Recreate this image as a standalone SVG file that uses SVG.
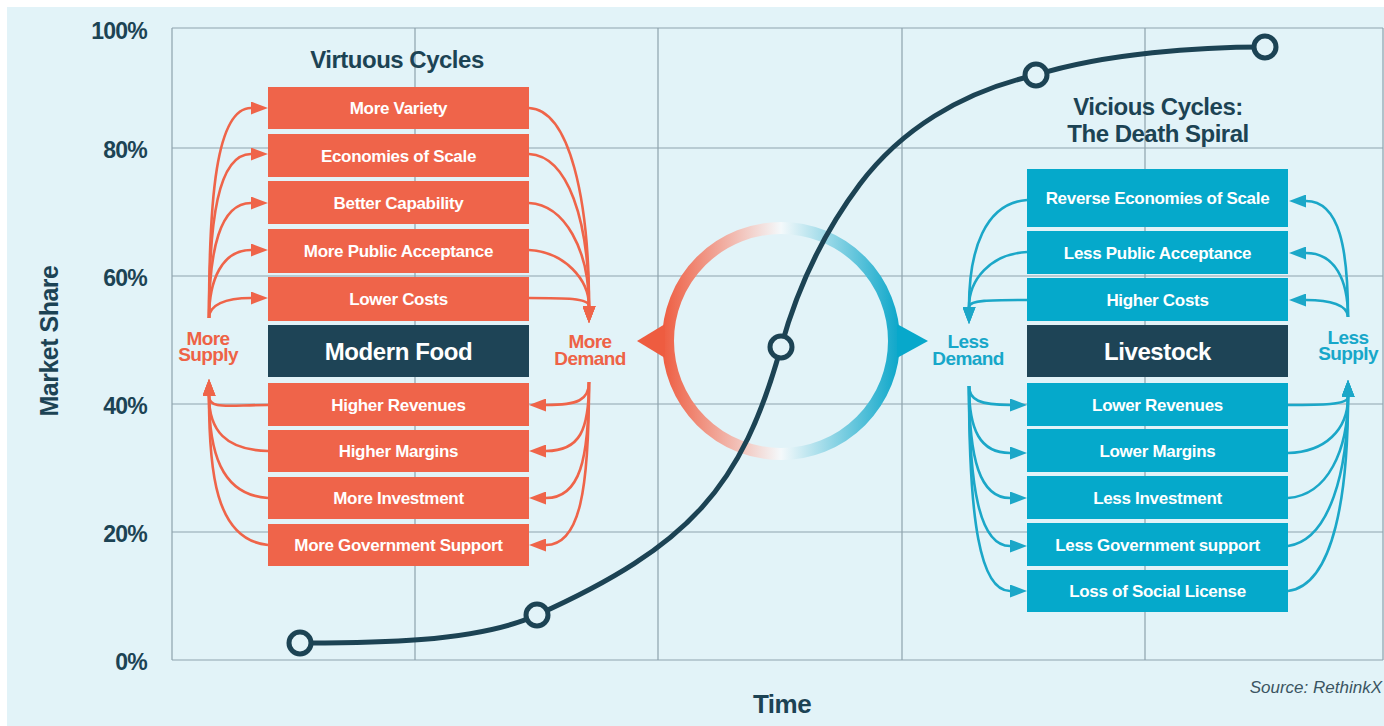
<svg xmlns="http://www.w3.org/2000/svg" width="1384" height="726" viewBox="0 0 1384 726">
<defs>
<style>
.grid{stroke:#8ea3ad;stroke-width:1.2;fill:none}
.ob{fill:#ef644a}
.bb{fill:#05a9cb}
.db{fill:#1e4456}
.bt{font-family:"Liberation Sans",Arial,sans-serif;font-weight:bold;font-size:17px;fill:#ffffff;text-anchor:middle;letter-spacing:-0.3px}
.big{font-size:24px;letter-spacing:-0.4px}
.title{font-family:"Liberation Sans",Arial,sans-serif;font-weight:bold;font-size:24px;fill:#1c4354;text-anchor:middle;letter-spacing:-0.5px}
.axis{font-family:"Liberation Sans",Arial,sans-serif;font-weight:bold;font-size:23px;fill:#1c4354;text-anchor:end;letter-spacing:-0.8px}
.lab{font-family:"Liberation Sans",Arial,sans-serif;font-weight:bold;font-size:19px;text-anchor:middle;letter-spacing:-0.6px}
.ol{fill:#ee6246}
.bl{fill:#17a7c9}
.oc{fill:none;stroke:#ef6449;stroke-width:2.6}
.bc{fill:none;stroke:#1ba7c8;stroke-width:2.6}
.oc path{marker-end:url(#ao)}
.bc path{marker-end:url(#ab)}
.pt{fill:#e2f3f8;stroke:#1c4354;stroke-width:5}
</style>
<marker id="ao" markerUnits="userSpaceOnUse" markerWidth="17" markerHeight="13" viewBox="0 0 17 13" refX="0" refY="6.5" orient="auto"><path d="M0,0 L17,6.5 L0,13 z" fill="#ef6449"/></marker>
<marker id="ab" markerUnits="userSpaceOnUse" markerWidth="17" markerHeight="13" viewBox="0 0 17 13" refX="0" refY="6.5" orient="auto"><path d="M0,0 L17,6.5 L0,13 z" fill="#1ba7c8"/></marker>
<linearGradient id="ring" gradientUnits="userSpaceOnUse" x1="662" y1="0" x2="900" y2="0">
<stop offset="0" stop-color="#ee5c40"/>
<stop offset="0.5" stop-color="#f4f9fb"/>
<stop offset="1" stop-color="#0ba6c9"/>
</linearGradient>
</defs>
<rect x="0" y="0" width="1384" height="726" fill="#ffffff"/>
<rect x="7" y="7" width="1377" height="719" fill="#e2f3f8"/>

<g id="grid" class="grid">
<path d="M172,28 H1383 M172,148 H1383 M172,276 H1383 M172,404 H1383 M172,532 H1383 M172,660 H1383"/>
<path d="M172,28 V660 M415,28 V660 M658,28 V660 M902,28 V660 M1145,28 V660 M1383,28 V660"/>
</g>

<g id="axis-labels">
<text class="axis" x="147" y="39">100%</text>
<text class="axis" x="147" y="158">80%</text>
<text class="axis" x="147" y="286">60%</text>
<text class="axis" x="147" y="414">40%</text>
<text class="axis" x="147" y="542">20%</text>
<text class="axis" x="147" y="670">0%</text>
<text class="title" transform="translate(58,341) rotate(-90)" x="0" y="0" style="font-size:25px">Market Share</text>
<text class="title" x="782" y="713" style="font-size:26px">Time</text>
<text x="1382" y="693" style="font-family:'Liberation Sans',Arial,sans-serif;font-style:italic;font-size:17px;fill:#3b5562;text-anchor:end">Source: RethinkX</text>
</g>

<g id="cycle-ring">
<circle cx="781" cy="341" r="113" fill="none" stroke="url(#ring)" stroke-width="12"/>
<polygon points="637,341 665,324 665,358" fill="#ee5c40"/>
<polygon points="928,341 897,324 897,358" fill="#07a8cb"/>
</g>

<g id="s-curve">
<path d="M300,643 C360,643 473,644 537,615 C690,546 742,487 781,347 C797,289 824,232 860,184 C900,131 960,92 1036,75 C1106,53 1200,47 1265,47" fill="none" stroke="#1c4354" stroke-width="5"/>
<circle class="pt" cx="300" cy="643" r="11"/>
<circle class="pt" cx="537" cy="615" r="11"/>
<circle class="pt" cx="781" cy="347" r="11"/>
<circle class="pt" cx="1036" cy="75" r="11"/>
<circle class="pt" cx="1265" cy="47" r="11"/>
</g>

<text class="title" x="397" y="68">Virtuous Cycles</text>
<text class="title" x="1158" y="115">Vicious Cycles:<tspan x="1158" y="142">The Death Spiral</tspan></text>

<g id="modern-food-stack">
<g id="n-more-variety"><rect class="ob" x="268" y="87" width="261" height="42"/><text class="bt" x="398.5" y="114">More Variety</text></g>
<g id="n-economies-of-scale"><rect class="ob" x="268" y="134" width="261" height="43"/><text class="bt" x="398.5" y="161.5">Economies of Scale</text></g>
<g id="n-better-capability"><rect class="ob" x="268" y="181" width="261" height="43"/><text class="bt" x="398.5" y="208.5">Better Capability</text></g>
<g id="n-more-public-acceptance"><rect class="ob" x="268" y="229" width="261" height="44"/><text class="bt" x="398.5" y="257">More Public Acceptance</text></g>
<g id="n-lower-costs"><rect class="ob" x="268" y="277" width="261" height="44"/><text class="bt" x="398.5" y="305">Lower Costs</text></g>
<g id="n-modern-food"><rect class="db" x="268" y="325" width="261" height="52"/><text class="bt big" x="398.5" y="359.5">Modern Food</text></g>
<g id="n-higher-revenues"><rect class="ob" x="268" y="383" width="261" height="43"/><text class="bt" x="398.5" y="410.5">Higher Revenues</text></g>
<g id="n-higher-margins"><rect class="ob" x="268" y="430" width="261" height="42"/><text class="bt" x="398.5" y="457">Higher Margins</text></g>
<g id="n-more-investment"><rect class="ob" x="268" y="477" width="261" height="42"/><text class="bt" x="398.5" y="504">More Investment</text></g>
<g id="n-more-government-support"><rect class="ob" x="268" y="524" width="261" height="42"/><text class="bt" x="398.5" y="551">More Government Support</text></g>
</g>

<g id="livestock-stack">
<g id="n-reverse-economies"><rect class="bb" x="1027" y="169" width="261" height="58"/><text class="bt" x="1157.5" y="204">Reverse Economies of Scale</text></g>
<g id="n-less-public-acceptance"><rect class="bb" x="1027" y="231" width="261" height="43"/><text class="bt" x="1157.5" y="258.5">Less Public Acceptance</text></g>
<g id="n-higher-costs"><rect class="bb" x="1027" y="278" width="261" height="43"/><text class="bt" x="1157.5" y="305.5">Higher Costs</text></g>
<g id="n-livestock"><rect class="db" x="1027" y="325" width="261" height="52"/><text class="bt big" x="1157.5" y="359.5">Livestock</text></g>
<g id="n-lower-revenues"><rect class="bb" x="1027" y="383" width="261" height="43"/><text class="bt" x="1157.5" y="410.5">Lower Revenues</text></g>
<g id="n-lower-margins"><rect class="bb" x="1027" y="429" width="261" height="43"/><text class="bt" x="1157.5" y="456.5">Lower Margins</text></g>
<g id="n-less-investment"><rect class="bb" x="1027" y="476" width="261" height="43"/><text class="bt" x="1157.5" y="503.5">Less Investment</text></g>
<g id="n-less-government-support"><rect class="bb" x="1027" y="523" width="261" height="43"/><text class="bt" x="1157.5" y="550.5">Less Government support</text></g>
<g id="n-loss-of-social-license"><rect class="bb" x="1027" y="570" width="261" height="42"/><text class="bt" x="1157.5" y="597">Loss of Social License</text></g>
</g>

<g id="n-more-supply"><text class="lab ol" x="208" y="345">More<tspan x="208" y="361">Supply</tspan></text></g>
<g id="n-more-demand"><text class="lab ol" x="590" y="348">More<tspan x="590" y="365">Demand</tspan></text></g>
<g id="n-less-demand"><text class="lab bl" x="968" y="348">Less<tspan x="968" y="365">Demand</tspan></text></g>
<g id="n-less-supply"><text class="lab bl" x="1348" y="344">Less<tspan x="1348" y="360">Supply</tspan></text></g>

<g id="connectors">
<g class="oc">
<path d="M209,318 C209,200 216,108 251,108"/>
<path d="M209,318 C209,220 218,154 251,154"/>
<path d="M209,318 C209,250 220,203 251,203"/>
<path d="M209,318 C209,280 222,250 251,250"/>
<path d="M209,318 C209,305 225,298 251,298"/>
<path d="M268,405 C228,405 209,410 209,396"/>
<path d="M268,451 C225,450 209,430 209,396"/>
<path d="M268,498 C220,495 209,450 209,396"/>
<path d="M268,545 C215,540 209,470 209,396"/>
<path d="M529,108 C570,110 589,200 589,306"/>
<path d="M529,154 C568,156 589,220 589,306"/>
<path d="M529,203 C565,205 589,250 589,306"/>
<path d="M529,250 C565,252 589,280 589,306"/>
<path d="M529,298 C565,298 589,298 589,306"/>
<path d="M589,382 C589,400 578,405 546,405"/>
<path d="M589,382 C589,430 580,451 546,451"/>
<path d="M589,382 C589,460 580,498 546,498"/>
<path d="M589,382 C589,490 580,545 546,545"/>
</g>
<g class="bc">
<path d="M1027,200 C985,203 969,250 969,307"/>
<path d="M1027,252 C990,254 969,280 969,307"/>
<path d="M1027,300 C990,300 969,300 969,307"/>
<path d="M1348,317 C1348,250 1340,201 1306,201"/>
<path d="M1348,317 C1348,280 1335,253 1306,253"/>
<path d="M1348,317 C1348,305 1330,300 1306,300"/>
<path d="M969,386 C969,400 980,405 1010,405"/>
<path d="M969,386 C969,430 980,453 1010,453"/>
<path d="M969,386 C969,460 980,498 1010,498"/>
<path d="M969,386 C969,490 980,546 1010,546"/>
<path d="M969,386 C969,520 980,591 1010,591"/>
<path d="M1288,405 C1320,405 1348,405 1348,397"/>
<path d="M1288,453 C1325,452 1348,430 1348,397"/>
<path d="M1288,498 C1328,495 1348,450 1348,397"/>
<path d="M1288,546 C1330,540 1348,470 1348,397"/>
<path d="M1288,591 C1335,585 1348,490 1348,397"/>
</g>
</g>
</svg>
